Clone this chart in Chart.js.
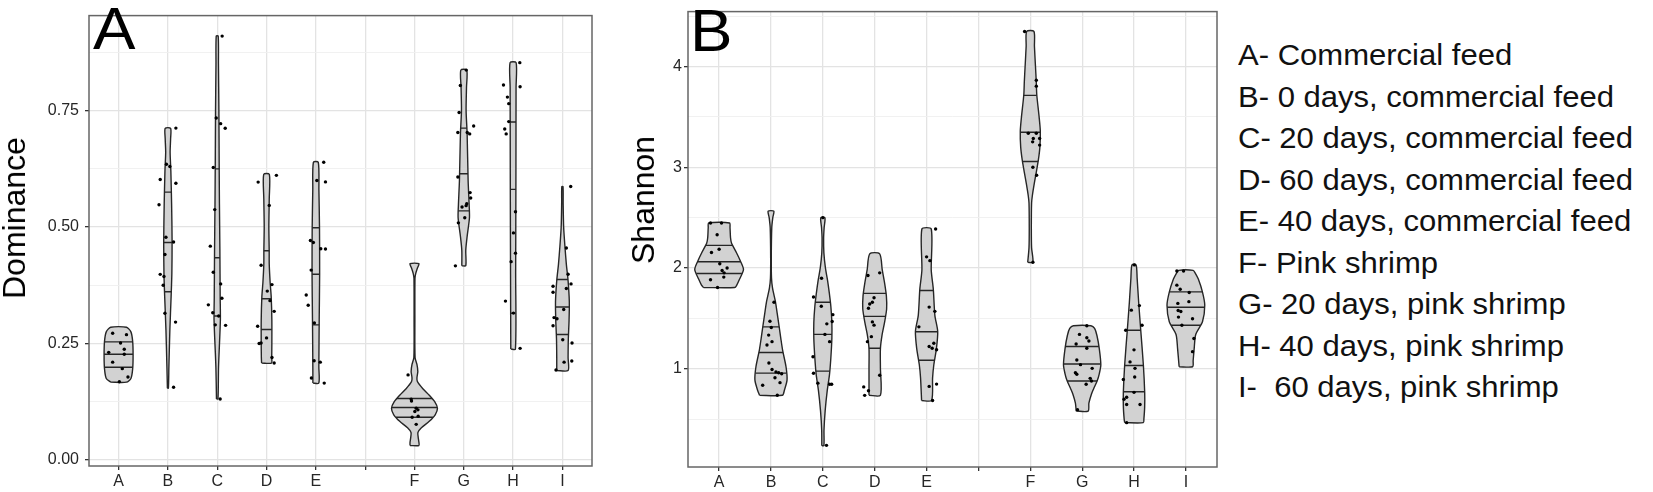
<!DOCTYPE html>
<html>
<head>
<meta charset="utf-8">
<title>Dominance and Shannon index</title>
<script src="https://cdn.jsdelivr.net/npm/chart.js@4.4.1/dist/chart.umd.min.js"></script>
<style>
  html, body { margin: 0; padding: 0; background: #fff; }
  body { position: relative; width: 1653px; height: 492px; overflow: hidden;
         font-family: "Liberation Sans", Arial, Helvetica, sans-serif; color: #000; }
  .plot { position: absolute; top: 0; width: 600px; height: 492px; }
  .plot canvas { display: block; }
  #plotA { left: 0; }
  #plotB { left: 629px; }
  .tag { position: absolute; top: 0; font-size: 59px; line-height: 1; transform: scaleX(1.08); transform-origin: 0 0; }
  .ytitle { position: absolute; font-size: 32px; line-height: 1; white-space: nowrap;
            transform: translate(-50%, -50%) rotate(-90deg); }
  #legend { position: absolute; left: 1238px; top: 35px; font-size: 29px; line-height: 41.5px;
            white-space: pre; transform: scaleX(1.07); transform-origin: 0 0; color: #111; }
</style>
</head>
<body>
<div class="plot" id="plotA"><canvas id="chartA" width="600" height="492"></canvas></div>
<div class="plot" id="plotB"><canvas id="chartB" width="600" height="492"></canvas></div>
<div class="ytitle" style="left:14px; top:218px">Dominance</div>
<div class="ytitle" style="left:643px; top:200px">Shannon</div>
<div class="tag" style="left:93px">A</div>
<div class="tag" style="left:690px; top:2px">B</div>
<div id="legend"></div>

<script>
const categories = ['A', 'B', 'C', 'D', 'E', '', 'F', 'G', 'H', 'I'];
const groups = ['A', 'B', 'C', 'D', 'E', 'F', 'G', 'H', 'I'];
const legendLabels = [
  'A- Commercial feed',
  'B- 0 days, commercial feed',
  'C- 20 days, commercial feed',
  'D- 60 days, commercial feed',
  'E- 40 days, commercial feed',
  'F- Pink shrimp',
  'G- 20 days, pink shrimp',
  'H- 40 days, pink shrimp',
  'I-  60 days, pink shrimp'
];

const domTicks = [0, 0.25, 0.5, 0.75];
const domGrid = [0, 0.125, 0.25, 0.375, 0.5, 0.625, 0.75, 0.875];
const shTicks = [1, 2, 3, 4];
const shGrid = [0.5, 1, 1.5, 2, 2.5, 3, 3.5, 4, 4.5];

// violin outlines: [value, half width in category units], bottom to top
const domOutline = [
  [[0.167, 0.16], [0.175, 0.25], [0.195, 0.285], [0.225, 0.294], [0.255, 0.285], [0.275, 0.25], [0.285, 0.16]],
  [[0.154, 0.01], [0.2, 0.02], [0.28, 0.04], [0.35, 0.065], [0.4, 0.08], [0.47, 0.085], [0.55, 0.075], [0.62, 0.06], [0.66, 0.045], [0.69, 0.055], [0.712, 0.055]],
  [[0.131, 0.015], [0.2, 0.027], [0.3, 0.064], [0.35, 0.06], [0.45, 0.054], [0.55, 0.045], [0.63, 0.04], [0.75, 0.034], [0.85, 0.025], [0.91, 0.02]],
  [[0.208, 0.1], [0.22, 0.105], [0.25, 0.108], [0.3, 0.108], [0.35, 0.095], [0.38, 0.074], [0.42, 0.055], [0.45, 0.054], [0.5, 0.047], [0.56, 0.055], [0.613, 0.057]],
  [[0.165, 0.06], [0.2, 0.061], [0.3, 0.068], [0.4, 0.077], [0.5, 0.074], [0.58, 0.062], [0.639, 0.05]],
  [[0.031, 0.09], [0.038, 0.09], [0.049, 0.075], [0.059, 0.07], [0.069, 0.14], [0.083, 0.3], [0.097, 0.42], [0.111, 0.466], [0.125, 0.41], [0.139, 0.3], [0.153, 0.17], [0.168, 0.06], [0.176, 0.05], [0.19, 0.068], [0.205, 0.05], [0.22, 0.012], [0.3, 0.008], [0.39, 0.01], [0.4, 0.025], [0.412, 0.06], [0.4215, 0.09]],
  [[0.417, 0.04], [0.45, 0.04], [0.48, 0.068], [0.52, 0.115], [0.55, 0.108], [0.6, 0.088], [0.7, 0.068], [0.75, 0.047], [0.8, 0.055], [0.837, 0.06]],
  [[0.238, 0.047], [0.4, 0.052], [0.6, 0.057], [0.8, 0.06], [0.853, 0.061]],
  [[0.192, 0.115], [0.22, 0.115], [0.26, 0.12], [0.3, 0.135], [0.34, 0.14], [0.385, 0.115], [0.42, 0.08], [0.46, 0.05], [0.5, 0.025], [0.55, 0.015], [0.587, 0.012]]
];
const domQuartiles = [
  [0.199, 0.227, 0.2535], [0.361, 0.467, 0.575], [0.309, 0.434, 0.625],
  [0.28, 0.346, 0.449], [0.29, 0.3986, 0.4986], [0.0917, 0.1125, 0.132],
  [0.5347, 0.6146, 0.7125], [0.315, 0.581, 0.7257], [0.2694, 0.3285, 0.3875]
];
const domValues = [
  [0.272, 0.269, 0.251, 0.231, 0.2375, 0.227, 0.21, 0.196, 0.178, 0.168],
  [0.7125, 0.635, 0.63, 0.602, 0.594, 0.548, 0.478, 0.468, 0.441, 0.3985, 0.394, 0.375, 0.315, 0.296, 0.156],
  [0.91, 0.734, 0.722, 0.712, 0.628, 0.5375, 0.459, 0.403, 0.378, 0.347, 0.333, 0.316, 0.309, 0.29, 0.289, 0.131],
  [0.611, 0.5965, 0.5465, 0.418, 0.3625, 0.3765, 0.342, 0.319, 0.287, 0.262, 0.251, 0.25, 0.22, 0.208],
  [0.639, 0.6, 0.597, 0.471, 0.467, 0.4535, 0.453, 0.4076, 0.354, 0.332, 0.294, 0.213, 0.21, 0.176, 0.165],
  [0.1826, 0.1306, 0.1264, 0.1111, 0.1076, 0.104, 0.0917, 0.0938, 0.0764],
  [0.837, 0.804, 0.746, 0.703, 0.7, 0.717, 0.703, 0.6076, 0.574, 0.5625, 0.55, 0.546, 0.543, 0.52, 0.509, 0.4167],
  [0.853, 0.805, 0.8014, 0.779, 0.765, 0.7264, 0.7104, 0.7, 0.533, 0.4875, 0.444, 0.4257, 0.341, 0.3153, 0.2396],
  [0.587, 0.455, 0.3986, 0.378, 0.373, 0.368, 0.36, 0.323, 0.3056, 0.303, 0.288, 0.258, 0.251, 0.21, 0.2125, 0.193]
];
const domJitter = [
  [-0.12, 0.16, 0.04, -0.2, 0.115, 0.115, -0.12, 0.075, 0.19, 0.015],
  [0.162, -0.03, 0.04, -0.156, 0.162, -0.18, -0.04, 0.115, -0.06, -0.156, -0.08, -0.095, -0.06, 0.155, 0.115],
  [0.1, -0.02, 0.07, 0.162, -0.08, -0.05, -0.14, -0.08, 0.07, 0.095, -0.18, -0.09, 0.03, -0.04, 0.17, 0.06],
  [0.2, -0.17, 0.055, -0.11, 0.015, 0.11, 0.07, 0.155, -0.18, 0, -0.11, -0.15, 0.11, 0.155],
  [0.16, 0.02, 0.195, -0.11, -0.05, 0.1, 0.195, -0.095, -0.195, -0.155, -0.03, -0.035, 0.09, -0.09, 0.17],
  [-0.13, -0.067, -0.06, 0.035, 0.07, 0.008, -0.047, 0.075, 0.035],
  [0.05, -0.07, -0.095, -0.12, 0.12, 0.2, 0.07, -0.12, 0.128, 0.14, 0.06, 0.047, -0.035, 0.02, -0.11, -0.17],
  [0.136, -0.195, 0.142, -0.115, -0.088, -0.088, -0.17, -0.14, 0.048, 0.007, 0.048, -0.04, -0.155, 0.007, 0.142],
  [0.168, 0.08, 0.115, 0.175, -0.19, 0.08, -0.19, 0.027, -0.17, -0.11, -0.19, 0.007, 0.195, 0.034, 0.19, -0.13]
];

const shOutline = [
  [[1.806, 0.3], [1.83, 0.34], [1.89, 0.395], [1.985, 0.47], [2.07, 0.41], [2.147, 0.34], [2.245, 0.24], [2.3, 0.22], [2.4, 0.21], [2.447, 0.2]],
  [[0.737, 0.22], [0.79, 0.26], [0.89, 0.31], [1.02, 0.29], [1.183, 0.225], [1.3, 0.19], [1.427, 0.155], [1.55, 0.12], [1.671, 0.084], [1.8, 0.03], [1.9, 0.01], [2.1, 0.006], [2.4, 0.015], [2.5, 0.035], [2.564, 0.055]],
  [[0.237, 0.02], [0.39, 0.022], [0.585, 0.045], [0.78, 0.084], [0.942, 0.128], [1.105, 0.154], [1.3, 0.174], [1.46, 0.174], [1.62, 0.154], [1.75, 0.125], [1.88, 0.09], [2.0, 0.05], [2.15, 0.02], [2.3, 0.015], [2.4, 0.025], [2.5, 0.04]],
  [[0.737, 0.11], [1.008, 0.11], [1.2, 0.11], [1.33, 0.14], [1.46, 0.19], [1.593, 0.23], [1.723, 0.225], [1.853, 0.19], [1.983, 0.145], [2.141, 0.096]],
  [[0.685, 0.096], [0.91, 0.116], [1.04, 0.14], [1.2, 0.19], [1.37, 0.215], [1.53, 0.16], [1.79, 0.13], [1.98, 0.09], [2.387, 0.09]],
  [[2.057, 0.05], [2.2, 0.025], [2.4, 0.02], [2.645, 0.025], [2.72, 0.04], [2.84, 0.077], [2.95, 0.115], [3.07, 0.155], [3.2, 0.185], [3.36, 0.193], [3.5, 0.17], [3.72, 0.125], [3.85, 0.115], [4.0, 0.1], [4.2, 0.08], [4.348, 0.07]],
  [[0.58, 0.115], [0.66, 0.13], [0.75, 0.18], [0.8, 0.22], [0.88, 0.29], [0.95, 0.33], [1.04, 0.36], [1.2, 0.33], [1.33, 0.285], [1.4, 0.24], [1.427, 0.17]],
  [[0.465, 0.18], [0.5, 0.19], [0.617, 0.205], [0.763, 0.206], [1.04, 0.18], [1.38, 0.13], [1.658, 0.09], [1.9, 0.06], [2.031, 0.04]],
  [[1.02, 0.13], [1.08, 0.14], [1.2, 0.16], [1.34, 0.19], [1.467, 0.32], [1.63, 0.364], [1.76, 0.32], [1.89, 0.24], [1.95, 0.18], [1.977, 0.14]]
];
const shQuartiles = [
  [1.946, 2.062, 2.225], [0.957, 1.162, 1.416], [0.977, 1.341, 1.66],
  [1.204, 1.52, 1.748], [1.084, 1.367, 1.777], [3.057, 3.347, 3.714],
  [0.879, 1.048, 1.221], [0.772, 1.032, 1.383], [1.432, 1.611, 1.763]
];
const shValues = [
  [2.447, 2.447, 2.33, 2.154, 2.186, 2.043, 2.0, 1.975, 1.952, 1.91, 1.884, 1.806],
  [1.66, 1.471, 1.409, 1.334, 1.269, 1.236, 1.057, 0.992, 0.969, 0.96, 0.95, 0.911, 0.862, 0.837, 0.737],
  [2.5, 1.898, 1.713, 1.621, 1.537, 1.469, 1.446, 1.341, 1.269, 1.12, 0.955, 0.857, 0.847, 0.847, 0.24],
  [1.926, 1.952, 1.705, 1.643, 1.66, 1.601, 1.465, 1.433, 1.319, 1.269, 0.935, 0.82, 0.736, 0.782],
  [2.387, 2.111, 2.073, 1.612, 1.57, 1.416, 1.221, 1.204, 1.253, 1.189, 0.848, 0.825, 0.685],
  [4.348, 3.863, 3.805, 3.337, 3.337, 3.285, 3.285, 3.252, 3.22, 3.0, 2.92, 2.057],
  [1.427, 1.341, 1.308, 1.276, 1.246, 1.204, 1.087, 1.041, 1.004, 0.961, 0.945, 0.905, 0.879, 0.847, 0.594],
  [2.031, 1.582, 1.627, 1.432, 1.383, 1.188, 1.068, 1.004, 0.919, 0.893, 0.766, 0.717, 0.698, 0.646, 0.646, 0.465],
  [1.97, 1.97, 1.83, 1.789, 1.757, 1.649, 1.666, 1.578, 1.568, 1.513, 1.496, 1.432, 1.3, 1.17]
];
const shJitter = [
  [-0.166, 0.046, -0.038, -0.147, 0, 0.013, 0.154, 0.058, 0.096, 0.09, -0.166, -0.03],
  [0.058, -0.02, 0.006, -0.045, 0.02, -0.077, -0.04, 0.02, 0.096, 0.148, 0.206, 0.077, 0.174, -0.16, 0.122],
  [0, -0.025, -0.18, -0.03, 0.193, 0.18, 0.077, 0.04, 0.13, -0.19, -0.18, -0.096, 0.13, 0.17, 0.07],
  [-0.13, 0.096, -0.013, -0.096, -0.045, -0.12, -0.045, -0.013, -0.064, -0.14, 0.096, -0.212, -0.193, -0.12],
  [0.174, 0, 0.064, 0.05, 0.16, -0.148, 0.05, 0.108, 0.14, 0.193, 0.193, 0.05, 0.116],
  [-0.11, 0.116, 0.116, -0.039, 0.116, 0.058, 0.18, 0.045, 0.18, 0.05, 0.122, 0.05],
  [0.09, -0.052, 0.09, 0.13, -0.116, 0.09, -0.103, -0.032, 0.193, -0.13, -0.103, 0.155, 0.18, 0.077, -0.09],
  [0.006, -0.052, 0.103, 0.155, -0.16, 0, -0.077, 0.019, 0.013, -0.206, 0, -0.142, -0.193, -0.142, 0.116, -0.142],
  [-0.174, -0.045, -0.174, -0.11, 0.064, -0.155, 0.058, -0.149, -0.097, -0.143, 0.128, -0.077, 0.155, 0.128]
];

const fontFamily = '"Liberation Sans", Arial, Helvetica, sans-serif';
const groupPos = groups.map(g => categories.indexOf(g) + 1);

document.getElementById('legend').innerHTML = legendLabels.map(t => '<div>' + t + '</div>').join('');

function halfWidthAt(outline, y) {
  for (let i = 1; i < outline.length; i++) {
    const [y0, w0] = outline[i - 1];
    const [y1, w1] = outline[i];
    if (y >= y0 && y <= y1) return w0 + (w1 - w0) * (y - y0) / (y1 - y0);
  }
  return 0;
}

function violinDatasets(outlines, quartiles, values, jitter) {
  const sets = [];
  outlines.forEach((outline, g) => {
    const pos = groupPos[g];
    const left = outline.map(([y, w]) => ({x: pos - w, y: y}));
    const right = outline.slice().reverse().map(([y, w]) => ({x: pos + w, y: y}));
    sets.push({
      data: left.concat(right, [left[0]]),
      borderColor: '#262626',
      borderWidth: 1.4,
      backgroundColor: '#d2d2d2',
      fill: 'shape',
      tension: 0.25,
      pointRadius: 0,
      order: 3
    });
  });

  const quartileLines = [];
  quartiles.forEach((qs, g) => {
    const pos = groupPos[g];
    qs.forEach(q => {
      const w = halfWidthAt(outlines[g], q);
      quartileLines.push({x: pos - w, y: q}, {x: pos + w, y: q}, {x: pos, y: null});
    });
  });
  sets.push({
    data: quartileLines,
    borderColor: '#262626',
    borderWidth: 1.4,
    fill: false,
    spanGaps: false,
    pointRadius: 0,
    order: 2
  });

  const points = [];
  values.forEach((vals, g) => {
    vals.forEach((v, i) => points.push({x: groupPos[g] + jitter[g][i], y: v}));
  });
  sets.push({
    data: points,
    showLine: false,
    pointRadius: 1.7,
    pointBackgroundColor: '#000',
    pointBorderWidth: 0,
    order: 1
  });
  return sets;
}

const panelFrame = {
  id: 'panelFrame',
  afterDraw(chart) {
    const {ctx, chartArea} = chart;
    ctx.save();
    ctx.strokeStyle = '#666666';
    ctx.lineWidth = 1.5;
    ctx.strokeRect(chartArea.left, chartArea.top, chartArea.right - chartArea.left, chartArea.bottom - chartArea.top);
    ctx.restore();
  }
};

function makeChart(canvasId, opts) {
  const isMajor = v => opts.majors.includes(v);
  return new Chart(document.getElementById(canvasId), {
    type: 'line',
    data: {datasets: violinDatasets(opts.outlines, opts.quartiles, opts.values, opts.jitter)},
    options: {
      responsive: false,
      animation: false,
      layout: {padding: {top: opts.padTop, right: opts.padRight, left: 0, bottom: 0}},
      plugins: {legend: {display: false}, tooltip: {enabled: false}},
      events: [],
      scales: {
        x: {
          type: 'linear',
          min: 0.4,
          max: 10.6,
          afterBuildTicks: s => { s.ticks = categories.map((c, i) => ({value: i + 1})); },
          afterFit: s => { s.height = opts.xHeight; },
          ticks: {
            callback: v => categories[v - 1] || '',
            color: '#262626',
            font: {size: 16, family: fontFamily},
            padding: 2,
            maxRotation: 0,
            autoSkip: false
          },
          grid: {color: '#e3e3e3', lineWidth: 1.3, tickLength: 4, tickColor: '#333333'},
          border: {display: false}
        },
        y: {
          type: 'linear',
          min: opts.yMin,
          max: opts.yMax,
          afterBuildTicks: s => { s.ticks = opts.grid.map(v => ({value: v})); },
          afterFit: s => { s.width = opts.yWidth; },
          ticks: {
            callback: v => isMajor(v) ? opts.format(v) : '',
            color: '#262626',
            font: {size: 16, family: fontFamily},
            padding: opts.tickPad,
            autoSkip: false
          },
          grid: {
            color: c => isMajor(c.tick.value) ? '#e3e3e3' : '#efefef',
            lineWidth: c => isMajor(c.tick.value) ? 1.3 : 0.9,
            tickLength: 4,
            tickColor: c => isMajor(c.tick.value) ? '#333333' : 'rgba(0,0,0,0)'
          },
          border: {display: false}
        }
      }
    },
    plugins: [panelFrame]
  });
}

makeChart('chartA', {
  outlines: domOutline, quartiles: domQuartiles, values: domValues, jitter: domJitter,
  majors: domTicks, grid: domGrid, format: v => v.toFixed(2),
  yMin: -0.013, yMax: 0.954, yWidth: 89, xHeight: 26, padTop: 2, padRight: 8, tickPad: 6
});

makeChart('chartB', {
  outlines: shOutline, quartiles: shQuartiles, values: shValues, jitter: shJitter,
  majors: shTicks, grid: shGrid, format: v => String(v),
  yMin: 0.025, yMax: 4.545, yWidth: 59, xHeight: 25, padTop: 3, padRight: 12, tickPad: 2
});
</script>
</body>
</html>
